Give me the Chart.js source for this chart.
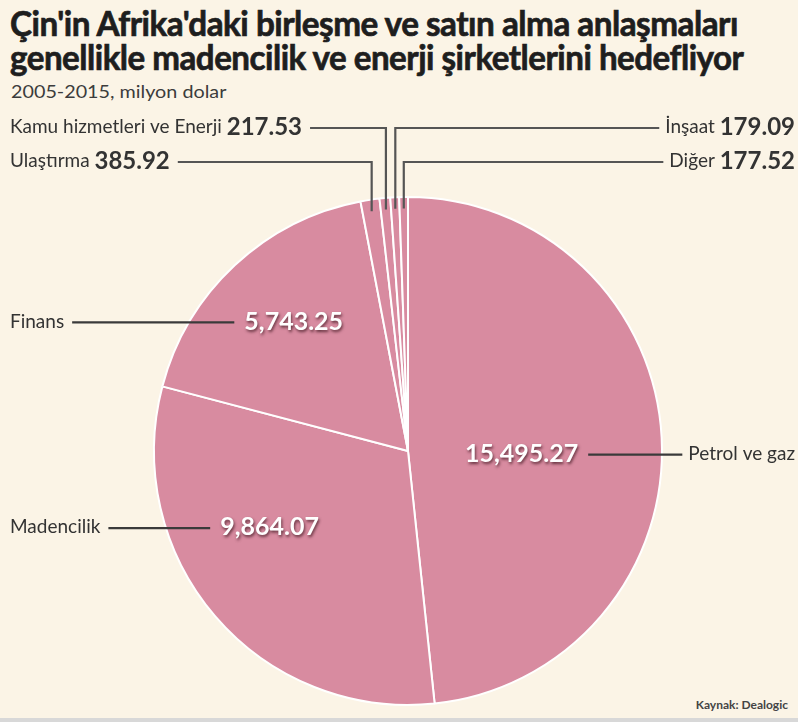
<!DOCTYPE html>
<html lang="tr">
<head>
<meta charset="utf-8">
<script src="https://cdn.jsdelivr.net/npm/chart.js@4"></script>
<style>
  html, body { margin: 0; padding: 0; }
  body { width: 798px; height: 722px; background: #fbf4e6; position: relative; overflow: hidden; font-family: Lato, 'Open Sans', sans-serif; }
  #chartBox { position: absolute; left: 0; top: 0; width: 798px; height: 722px; }
  .fit { position: absolute; left: 10px; white-space: nowrap; transform-origin: 0 0; }
  #t1 { top: 2px; font-size: 34px; font-weight: 700; color: #1e1e1e; letter-spacing: -0.5px; -webkit-text-stroke: 0.7px #1e1e1e; }
  #t2 { top: 36px; font-size: 34px; font-weight: 700; color: #1e1e1e; letter-spacing: -0.5px; -webkit-text-stroke: 0.7px #1e1e1e; }
  #sub { top: 81px; left: 11px; font-size: 17px; color: #3c3c3c; }
  #src { position: absolute; right: 10px; top: 697px; font-size: 12px; font-weight: 700; color: #444; }
  #strip { position: absolute; left: 0; right: 0; bottom: 0; height: 4px; background: #d8d8d8; }
</style>
</head>
<body>
<div class="fit" id="t1">Çin'in Afrika'daki birleşme ve satın alma anlaşmaları</div>
<div class="fit" id="t2">genellikle madencilik ve enerji şirketlerini hedefliyor</div>
<div class="fit" id="sub">2005-2015, milyon dolar</div>
<div id="src">Kaynak: Dealogic</div>
<div id="strip"></div>
<div id="chartBox"><canvas id="pie"></canvas></div>
<script>
  // sectors, clockwise from 12 o'clock
  const sectors = ['Petrol ve gaz', 'Madencilik', 'Finans', 'Ulaştırma', 'Kamu hizmetleri ve Enerji', 'İnşaat', 'Diğer'];
  const dealValues = [15495.27, 9864.07, 5743.25, 385.92, 217.53, 179.09, 177.52];
  const valueLabels = ['15,495.27', '9,864.07', '5,743.25', '385.92', '217.53', '179.09', '177.52'];

  // squeeze the title lines to the width they take in the print version
  function fitWidth(id, w) {
    const el = document.getElementById(id);
    el.style.transform = 'scaleX(' + (w / el.offsetWidth) + ')';
  }
  fitWidth('t1', 728);
  fitWidth('t2', 733);
  fitWidth('sub', 215);

  const pink = '#d88ba0';
  const nameFont = '19px Lato';

  // big slices: value text inside the slice (offset from centre in radius units), name at page edge
  const bigLabels = {
    0: { dx: 0.447, dy: 0.01, side: 'right' },
    1: { dx: -0.545, dy: 0.30, side: 'left' },
    2: { dx: -0.45, dy: -0.51, side: 'left' }
  };
  // small slices: label rows above the pie
  const smallLabels = {
    3: { row: 161, side: 'left' },
    4: { row: 127, side: 'left' },
    5: { row: 127, side: 'right' },
    6: { row: 161, side: 'right' }
  };

  const labelPlugin = {
    id: 'sliceLabels',
    afterDatasetsDraw(chart) {
      const ctx = chart.ctx;
      const arcs = chart.getDatasetMeta(0).data;
      ctx.save();
      ctx.textBaseline = 'middle';

      // leader lines for the thin slices
      Object.keys(smallLabels).forEach(k => {
        const i = +k, a = arcs[i], cfg = smallLabels[i];
        const mid = (a.startAngle + a.endAngle) / 2;
        const r = a.outerRadius * 0.955;
        const px = a.x + Math.cos(mid) * r;
        const py = a.y + Math.sin(mid) * r;
        ctx.font = nameFont;
        const nameW = ctx.measureText(sectors[i] + ' ').width;
        ctx.font = 'bold 24px Lato';
        const valW = ctx.measureText(valueLabels[i]).width;
        let lineStart;
        ctx.fillStyle = '#333';
        if (cfg.side === 'left') {
          ctx.textAlign = 'left';
          ctx.font = nameFont;
          ctx.fillText(sectors[i] + ' ', 10, cfg.row);
          ctx.font = 'bold 24px Lato';
          ctx.fillText(valueLabels[i], 10 + nameW, cfg.row);
          lineStart = 10 + nameW + valW + 8;
        } else {
          ctx.textAlign = 'right';
          ctx.font = 'bold 24px Lato';
          ctx.fillText(valueLabels[i], 795, cfg.row);
          ctx.font = nameFont;
          ctx.fillText(sectors[i] + ' ', 795 - valW, cfg.row);
          lineStart = 795 - valW - nameW - 6;
        }
        ctx.strokeStyle = '#555';
        ctx.lineWidth = 2.2;
        ctx.beginPath();
        ctx.moveTo(lineStart, cfg.row + 1);
        ctx.lineTo(px, cfg.row + 1);
        ctx.lineTo(px, py);
        ctx.stroke();
      });

      // value + name labels for the big slices
      Object.keys(bigLabels).forEach(k => {
        const i = +k, a = arcs[i], cfg = bigLabels[i];
        const R = a.outerRadius;
        const vx = a.x + cfg.dx * R;
        const vy = a.y + cfg.dy * R;
        ctx.font = 'bold 25px Lato';
        const vw = ctx.measureText(valueLabels[i]).width;
        ctx.font = nameFont;
        const nw = ctx.measureText(sectors[i]).width;
        ctx.strokeStyle = '#3a3a3a';
        ctx.lineWidth = 2.2;
        ctx.beginPath();
        if (cfg.side === 'left') {
          ctx.moveTo(10 + nw + 8, vy + 1);
          ctx.lineTo(vx - vw / 2 - 10, vy + 1);
        } else {
          ctx.moveTo(vx + vw / 2 + 10, vy + 1);
          ctx.lineTo(795 - nw - 6, vy + 1);
        }
        ctx.stroke();
        ctx.fillStyle = '#333';
        ctx.font = nameFont;
        if (cfg.side === 'left') {
          ctx.textAlign = 'left';
          ctx.fillText(sectors[i], 10, vy);
        } else {
          ctx.textAlign = 'right';
          ctx.fillText(sectors[i], 795, vy);
        }
        ctx.save();
        ctx.shadowColor = 'rgba(60,20,30,0.75)';
        ctx.shadowOffsetX = 1;
        ctx.shadowOffsetY = 2;
        ctx.shadowBlur = 3;
        ctx.fillStyle = '#ffffff';
        ctx.textAlign = 'center';
        ctx.font = 'bold 25px Lato';
        ctx.fillText(valueLabels[i], vx, vy);
        ctx.restore();
      });
      ctx.restore();
    }
  };

  const pieCtx = document.getElementById('pie').getContext('2d');
  const pieChart = new Chart(pieCtx, {
    type: 'pie',
    data: {
      labels: sectors,
      datasets: [{
        data: dealValues,
        backgroundColor: pink,
        borderColor: '#ffffff',
        borderWidth: 2,
        hoverOffset: 0
      }]
    },
    options: {
      responsive: true,
      maintainAspectRatio: false,
      animation: false,
      rotation: 0,
      layout: {
        padding: { left: 153, right: 135, top: 196, bottom: 16 }
      },
      plugins: {
        legend: { display: false },
        tooltip: { enabled: false }
      }
    },
    plugins: [labelPlugin]
  });
</script>
</body>
</html>
